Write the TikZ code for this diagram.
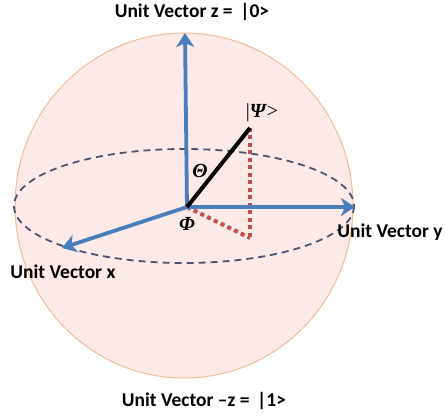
\documentclass[tikz,border=0pt]{standalone}
\usepackage{fontspec}
\setmainfont{Carlito}
\newfontfamily\greekfont{Liberation Serif}
\usetikzlibrary{arrows.meta}
\definecolor{spherefill}{HTML}{FBEAE8}
\definecolor{sphereedge}{HTML}{F2BC98}
\definecolor{axisblue}{HTML}{4A7EBB}
\definecolor{eqdash}{HTML}{4A5670}
\definecolor{dotred}{HTML}{C0504D}
\tikzset{
  axis/.style={draw=axisblue, line width=3.8pt, -{Stealth[length=14pt,width=18pt,inset=4pt]}},
  lbl/.style={font=\fontsize{19.5}{22}\selectfont\bfseries, inner sep=0pt, text=black},
  greek/.style={font=\fontsize{20}{22}\selectfont\greekfont\bfseries\itshape, inner sep=0pt},
  reddot/.style={draw=dotred, line width=4pt, dash pattern=on 4pt off 3.5pt},
}
\begin{document}
\begin{tikzpicture}[x=1pt,y=-1pt]
\useasboundingbox (0,0) rectangle (447,419);
\fill[white] (0,0) rectangle (447,419);
% sphere
\draw[sphereedge, fill=spherefill, line width=1pt] (184,205.5) ellipse [x radius=169, y radius=172.5];
% equator
\draw[eqdash, line width=1.8pt, dash pattern=on 7pt off 5pt] (184,206) ellipse [x radius=170, y radius=57];
% points
\coordinate (O) at (187,207);
\coordinate (Z) at (185,33);
\coordinate (Y) at (355,207);
\coordinate (X) at (62,248);
\coordinate (P) at (250,128);
\coordinate (Q) at (250,238);
% red dotted projections
\draw[reddot] (P) -- (Q);
\draw[reddot] (O) -- (Q);
% axes
\draw[axis] (O) -- (Z);
\draw[axis] (O) -- (Y);
\draw[axis] (O) -- (X);
% state vector
\draw[black, line width=4pt] (O) -- (P);
% labels
\node[lbl] (lz) at (192,12) {Unit Vector z = \,|0>};
\node[lbl] (ly) at (390,232) {Unit Vector y};
\node[lbl] (lx) at (63,272) {Unit Vector x};
\node[lbl] (lmz) at (204,401) {Unit Vector –z = \,|1>};
\node[greek] (th) at (200,171) {Θ};
\node[greek] (ph) at (187,224) {Φ};
\node[greek] (ps) at (262,113) {\textup{\fontseries{m}\selectfont|}Ψ\textup{\fontseries{m}\selectfont>}};
\end{tikzpicture}
\end{document}
